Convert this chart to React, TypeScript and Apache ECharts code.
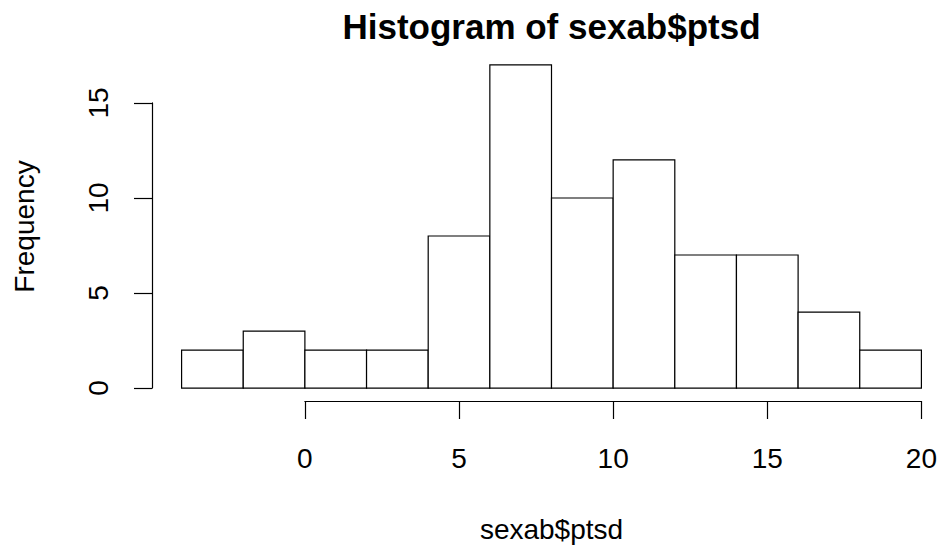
import React, { useEffect, useRef } from "react";
import * as echarts from "echarts";

// Histogram bins (breaks) and their counts
const breaks = [-4, -2, 0, 2, 4, 6, 8, 10, 12, 14, 16, 18, 20];
const counts = [2, 3, 2, 2, 8, 17, 10, 12, 7, 7, 4, 2];

// Axis tick positions
const xTicks = [0, 5, 10, 15, 20];
const yTicks = [0, 5, 10, 15];

const mainTitle = "Histogram of sexab$ptsd";
const xLabel = "sexab$ptsd";
const yLabel = "Frequency";

const FONT = "'Liberation Sans', Arial, Helvetica, sans-serif";

export default function App() {
  const ref = useRef<HTMLDivElement>(null);

  useEffect(() => {
    if (!ref.current) return;
    const chart = echarts.init(ref.current, undefined, { renderer: "svg" });

    // plot region, with 4% padding on each side of the data range
    const bMin = Math.min(...breaks);
    const bMax = Math.max(...breaks);
    const xPad = (bMax - bMin) * 0.04;
    const xMin = bMin - xPad;
    const xMax = bMax + xPad;
    const cMax = Math.max(...counts);
    const yPad = cMax * 0.04;
    const yMin = -yPad;
    const yMax = cMax + yPad;

    // the full plot region runs a little past the right edge of the canvas
    const plotLeft = 152;
    const plotTop = 52;
    const plotW = 799;
    const plotH = 349;
    const xPx = (v: number) => plotLeft + ((v - xMin) / (xMax - xMin)) * plotW;
    const yPx = (v: number) => plotTop + plotH - ((v - yMin) / (yMax - yMin)) * plotH;

    const xt0 = xTicks[0];
    const xt1 = xTicks[xTicks.length - 1];
    const yt0 = yTicks[0];
    const yt1 = yTicks[yTicks.length - 1];

    const lineStyle = { color: "#000", width: 1.2 };
    const labelStyle = { color: "#000", fontSize: 28, fontFamily: FONT };

    chart.setOption({
      animation: false,
      backgroundColor: "#fff",
      grid: [
        // bars: visible part of the plot region (xMin .. last break)
        { left: plotLeft, top: plotTop, width: xPx(bMax) - plotLeft, height: plotH },
        // x axis spans only the tick range
        { left: xPx(xt0), top: plotTop, width: xPx(xt1) - xPx(xt0), height: plotH },
        // y axis spans only the tick range
        { left: plotLeft, top: yPx(yt1), width: 100, height: yPx(yt0) - yPx(yt1) },
      ],
      xAxis: [
        { gridIndex: 0, type: "value", min: xMin, max: bMax, show: false },
        {
          gridIndex: 1,
          type: "value",
          min: xt0,
          max: xt1,
          interval: xTicks[1] - xTicks[0],
          axisLine: { show: true, lineStyle },
          axisTick: { show: true, length: 18, lineStyle },
          axisLabel: { ...labelStyle, margin: 43, showMinLabel: true, showMaxLabel: true },
          splitLine: { show: false },
        },
        { gridIndex: 2, type: "value", show: false },
      ],
      yAxis: [
        { gridIndex: 0, type: "value", min: yMin, max: yMax, show: false },
        { gridIndex: 1, type: "value", show: false },
        {
          gridIndex: 2,
          type: "value",
          min: yt0,
          max: yt1,
          interval: yTicks[1] - yTicks[0],
          axisLine: { show: true, lineStyle },
          axisTick: { show: true, length: 18, lineStyle },
          axisLabel: { ...labelStyle, margin: 40, rotate: 90, showMinLabel: true, showMaxLabel: true },
          splitLine: { show: false },
        },
      ],
      series: [
        {
          type: "custom",
          xAxisIndex: 0,
          yAxisIndex: 0,
          encode: { x: [0, 1], y: 2 },
          data: counts.map((c, i) => [breaks[i], breaks[i + 1], c]),
          renderItem: (_params: any, api: any) => {
            const p0 = api.coord([api.value(0), api.value(2)]);
            const p1 = api.coord([api.value(1), 0]);
            return {
              type: "rect",
              shape: { x: p0[0], y: p0[1], width: p1[0] - p0[0], height: p1[1] - p0[1] },
              style: { fill: "#fff", stroke: "#000", lineWidth: 1.2 },
            };
          },
        },
      ],
      graphic: [
        {
          type: "text",
          x: plotLeft + plotW / 2,
          y: 26.4,
          style: {
            text: mainTitle,
            fill: "#000",
            fontSize: 35,
            fontWeight: "bold",
            fontFamily: FONT,
            align: "center",
            verticalAlign: "middle",
          },
        },
        {
          type: "text",
          x: plotLeft + plotW / 2,
          y: 529.7,
          style: {
            text: xLabel,
            fill: "#000",
            fontSize: 28,
            fontFamily: FONT,
            align: "center",
            verticalAlign: "middle",
          },
        },
        {
          type: "text",
          x: 24,
          y: plotTop + plotH / 2,
          rotation: Math.PI / 2,
          style: {
            text: yLabel,
            fill: "#000",
            fontSize: 28,
            fontFamily: FONT,
            align: "center",
            verticalAlign: "middle",
          },
        },
      ],
    });

    return () => chart.dispose();
  }, []);

  return (
    <div
      ref={ref}
      style={{ position: "absolute", left: 0, top: 0, width: 943, height: 548, background: "#fff" }}
    />
  );
}
